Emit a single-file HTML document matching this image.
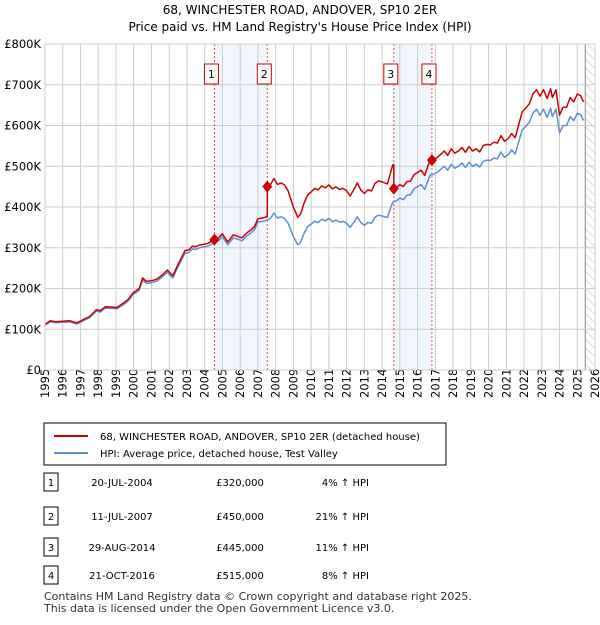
<!DOCTYPE html>
<html><head><meta charset="utf-8"><style>
body{margin:0;background:#fff;font-family:"Liberation Sans","DejaVu Sans",sans-serif;}
svg text{font-family:"DejaVu Sans","Liberation Sans",sans-serif;}
</style></head><body>
<svg width="600" height="620" xmlns="http://www.w3.org/2000/svg">
<defs><pattern id="hatch" width="6" height="6" patternUnits="userSpaceOnUse" patternTransform="rotate(-45)"><line x1="0" y1="0" x2="0" y2="6" stroke="#bbb" stroke-width="1"/></pattern></defs>
<text x="300" y="14" text-anchor="middle" font-size="12" fill="#000">68, WINCHESTER ROAD, ANDOVER, SP10 2ER</text>
<text x="300" y="31" text-anchor="middle" font-size="12" fill="#000">Price paid vs. HM Land Registry's House Price Index (HPI)</text>
<g id="plot"></g>
<g>
<rect x="44" y="423" width="402" height="42" fill="#fff" stroke="#000" stroke-width="1"/>
<line x1="54" y1="436" x2="88" y2="436" stroke="#cc0000" stroke-width="2"/>
<text x="100" y="440" font-size="10">68, WINCHESTER ROAD, ANDOVER, SP10 2ER (detached house)</text>
<line x1="54" y1="453" x2="88" y2="453" stroke="#5b8fd0" stroke-width="2"/>
<text x="100" y="457" font-size="10">HPI: Average price, detached house, Test Valley</text>
</g>
<g id="table" font-size="10"></g>
<text x="44" y="600" font-size="11" fill="#333">Contains HM Land Registry data © Crown copyright and database right 2025.</text>
<text x="44" y="612" font-size="11" fill="#333">This data is licensed under the Open Government Licence v3.0.</text>
</svg>
<script>
const hpiYears=[1995,1995.3,1995.6,1996,1996.4,1996.8,1997.2,1997.5,1997.9,1998.1,1998.4,1998.8,1999.05,1999.4,1999.7,1999.96,2000.3,2000.5,2000.7,2001.0,2001.3,2001.6,2001.9,2002.2,2002.6,2002.9,2003.1,2003.3,2003.5,2003.7,2004.0,2004.2,2004.5,2004.8,2005,2005.3,2005.6,2005.8,2006.1,2006.4,2006.6,2006.8,2007,2007.3,2007.5,2007.7,2007.9,2008.1,2008.3,2008.5,2008.7,2009,2009.25,
2009.4,2009.6,2009.8,2010.0,2010.2,2010.4,2010.6,2010.8,2011.0,2011.2,2011.4,2011.6,2011.8,2012.0,2012.2,2012.4,2012.6,2012.8,2013.0,2013.2,2013.4,2013.6,2013.8,2014.0,2014.3,2014.6,2014.8,2015.0,2015.2,2015.4,2015.6,2015.8,2016.0,2016.2,2016.4,2016.7,2016.9,2017.1,2017.3,2017.5,2017.7,2017.9,2018.1,2018.3,2018.5,2018.7,2018.9,2019.1,2019.3,2019.5,2019.7,2019.9,2020.1,2020.3,2020.5,2020.7,2020.9,2021.1,2021.3,2021.5,2021.7,2021.9,2022.1,2022.3,2022.5,2022.7,2022.9,2023.1,2023.3,2023.5,2023.6,2023.8,2024.0,2024.2,2024.4,2024.6,2024.8,2025.0,2025.2,2025.35];
const hpiValues=[110,118,116,117,118,113,122,128,145,142,152,151,150,160,170,185,195,221,213,214,218,228,240,226,262,287,288,297,296,300,302,304,312,318,327,307,324,322,317,330,336,344,363,365,368,372,385,373,376,372,360,327,307,
313,335,352,358,365,362,370,366,372,364,368,363,365,360,350,362,376,362,355,362,360,375,380,378,374,412,415,422,418,429,430,445,450,455,443,478,480,485,492,500,490,505,495,500,508,497,510,500,505,498,512,515,514,520,518,535,522,528,540,530,560,590,598,608,630,640,625,640,620,642,622,640,582,600,600,622,612,630,626,612];
const saleDates=[2004.55,2007.53,2014.66,2016.81];
const salePrices=[320,450,445,515];
const saleLabels=["20-JUL-2004","11-JUL-2007","29-AUG-2014","21-OCT-2016"];
const salePriceText=["£320,000","£450,000","£445,000","£515,000"];
const saleHpiText=["4% ↑ HPI","21% ↑ HPI","11% ↑ HPI","8% ↑ HPI"];
const yTicks=[0,100,200,300,400,500,600,700,800];
const yTickLabels=["£0","£100K","£200K","£300K","£400K","£500K","£600K","£700K","£800K"];
const xTicks=[1995,1996,1997,1998,1999,2000,2001,2002,2003,2004,2005,2006,2007,2008,2009,2010,2011,2012,2013,2014,2015,2016,2017,2018,2019,2020,2021,2022,2023,2024,2025,2026];
const NS="http://www.w3.org/2000/svg";
const X0=45,X1=595,Y0=370,Y1=44;
const xs=y=>X0+(y-1995)/31*(X1-X0);
const ys=v=>Y0-v/800*(Y0-Y1);
function mk(tag,attrs,parent){const e=document.createElementNS(NS,tag);for(const k in attrs)e.setAttribute(k,attrs[k]);parent.appendChild(e);return e;}
const plot=document.getElementById('plot');
function hpiAt(t){for(let i=0;i<hpiYears.length-1;i++){if(t<=hpiYears[i+1]){const f=(t-hpiYears[i])/(hpiYears[i+1]-hpiYears[i]);return hpiValues[i]+f*(hpiValues[i+1]-hpiValues[i]);}}return hpiValues[hpiValues.length-1];}
[[0,1],[2,3]].forEach(p=>{const r=mk('rect',{x:xs(saleDates[p[0]]),y:Y1,width:xs(saleDates[p[1]])-xs(saleDates[p[0]]),height:Y0-Y1,fill:'#eef3fc',opacity:0.8},plot);

});
const h=mk('rect',{x:xs(2025.45),y:Y1,width:X1-xs(2025.45),height:Y0-Y1,fill:'url(#hatch)'},plot);


mk('line',{x1:xs(2025.45),y1:Y1,x2:xs(2025.45),y2:Y0,stroke:'#888'},plot);
yTicks.forEach((v,i)=>{const l=mk('line',{x1:X0,x2:X1,y1:ys(v),y2:ys(v),stroke:'#cccccc'},plot);


const t=mk('text',{x:X0-4,y:ys(v)+4,'text-anchor':'end','font-size':'11.5'},plot);t.textContent=yTickLabels[i];

});
xTicks.forEach(y=>{const l=mk('line',{x1:xs(y),x2:xs(y),y1:Y1,y2:Y0,stroke:'#cccccc'},plot);


const t=mk('text',{x:0,y:0,transform:`translate(${xs(y)+4},${Y0+28}) rotate(-90)`,'font-size':'11.5'},plot);t.textContent=y;

});
saleDates.forEach((d,i)=>{const l=mk('line',{x1:xs(d),x2:xs(d),y1:Y1,y2:Y0,stroke:'#e05050','stroke-dasharray':'2,2'},plot);


const g=mk('g',{},plot);


mk('rect',{x:xs(d)-10,y:64,width:14,height:20,fill:'#fff',stroke:'#cc0000'},g);
const t=mk('text',{x:xs(d)-3,y:78,'text-anchor':'middle','font-size':'11'},g);t.textContent=i+1;});
const hp=mk('path',{d:hpiYears.map((y,i)=>(i?'L':'M')+xs(y).toFixed(1)+','+ys(hpiValues[i]).toFixed(1)).join(''),fill:'none',stroke:'#5b8fd0','stroke-width':1.5,'stroke-linejoin':'round'},plot);


function ratioAt(t){let k=0;for(let i=0;i<saleDates.length;i++)if(t>=saleDates[i])k=i;return salePrices[k]/hpiAt(saleDates[k]);}
let pts=[];const allT=hpiYears.concat(saleDates).sort((a,b)=>a-b);
allT.forEach(t=>{const si=saleDates.indexOf(t);if(si>0){pts.push([t,hpiAt(t)*salePrices[si-1]/hpiAt(saleDates[si-1])]);}pts.push([t,hpiAt(t)*ratioAt(t)]);});
const rp=mk('path',{d:pts.map((p,i)=>(i?'L':'M')+xs(p[0]).toFixed(1)+','+ys(p[1]).toFixed(1)).join(''),fill:'none',stroke:'#cc0000','stroke-width':1.5,'stroke-linejoin':'round'},plot);


saleDates.forEach((d,i)=>{const cx=xs(d),cy=ys(salePrices[i]);const c=mk('polygon',{points:`${cx},${cy-6} ${cx+5},${cy} ${cx},${cy+6} ${cx-5},${cy}`,fill:'#cc0000'},plot);

});
mk('rect',{x:X0,y:Y1,width:X1-X0,height:Y0-Y1,fill:'none',stroke:'#cccccc'},plot);
const tb=document.getElementById('table');const rowY=[482,516,547,575];
saleDates.forEach((d,i)=>{const g=mk('g',{},tb);


mk('rect',{x:44,y:rowY[i]-9,width:14,height:18,fill:'#fff',stroke:'#000'},g);
const a=mk('text',{x:51,y:rowY[i]+4,'text-anchor':'middle'},g);a.textContent=i+1;
const b=mk('text',{x:122,y:rowY[i]+4,'text-anchor':'middle'},g);b.textContent=saleLabels[i];
const c=mk('text',{x:240,y:rowY[i]+4,'text-anchor':'middle'},g);c.textContent=salePriceText[i];
const e=mk('text',{x:369,y:rowY[i]+4,'text-anchor':'end'},g);e.textContent=saleHpiText[i];});
</script>
</body></html>
